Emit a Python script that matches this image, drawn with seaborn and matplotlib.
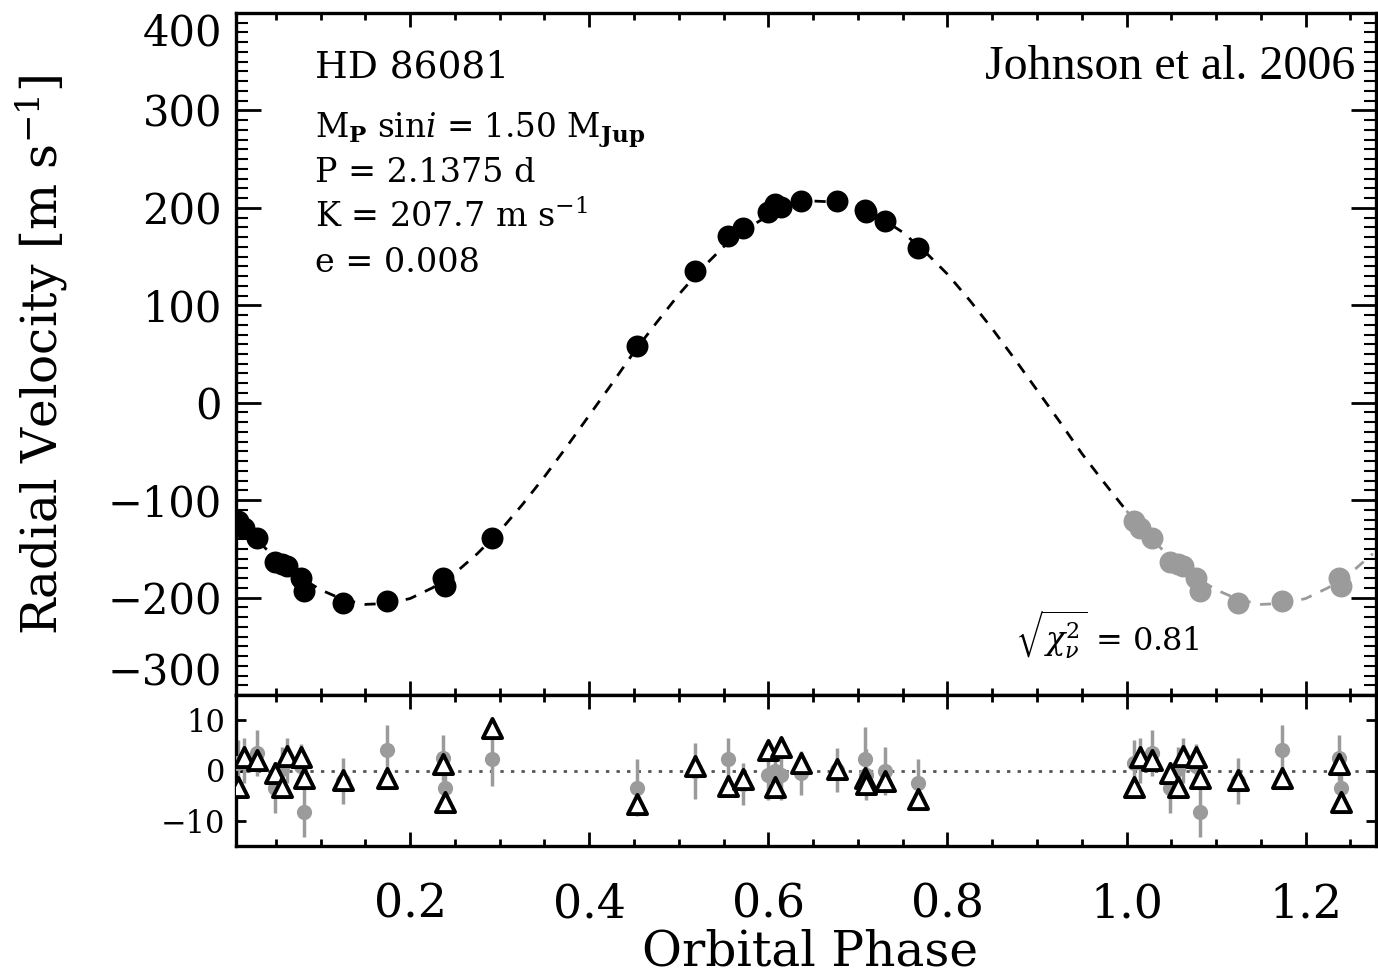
import numpy as np
import pandas as pd
import matplotlib
matplotlib.use("Agg")
import matplotlib.pyplot as plt
from matplotlib.ticker import MultipleLocator, FixedLocator, FormatStrFormatter
import seaborn as sns

# ---------------- data ----------------
obs_phase = [0.008, 0.015, 0.029, 0.049, 0.057, 0.063, 0.078, 0.082, 0.125, 0.174,
             0.237, 0.239, 0.291, 0.453, 0.518, 0.555, 0.572, 0.600, 0.608, 0.614,
             0.637, 0.677, 0.708, 0.709, 0.730, 0.767]
obs_rv = [-121, -129, -139, -163, -166, -168, -180, -193, -206, -204,
          -180, -188, -139, 58, 135, 171, 179, 196, 204, 201,
          207, 207, 198, 196, 187, 159]
resid_gray = [1.5, 2.0, 3.5, -3.4, 0.2, 2.0, 0.8, -8.3, -2.1, 4.1,
              2.5, -3.4, 2.2, -3.4, -0.1, 2.2, -2.7, -0.8, 0.0, -0.8,
              -0.5, 0.1, 2.2, -0.8, -0.1, -2.4]
resid_err = [4.5, 4.5, 4.5, 5.0, 4.5, 4.5, 4.5, 4.9, 4.6, 4.9,
             4.5, 4.6, 5.2, 5.7, 5.5, 4.2, 4.2, 5.0, 4.5, 5.0,
             4.3, 4.3, 6.5, 5.0, 4.8, 4.7]
resid_tri = [-3.3, 2.7, 2.0, -0.5, -3.3, 2.8, 2.7, -1.4, -1.8, -1.4,
             1.2, -6.3, 8.4, -6.7, 0.8, -3.0, -1.6, 4.1, -3.2, 4.6,
             1.5, 0.3, -1.4, -2.6, -2.1, -5.6]

# model curve values
curve_phase = np.round(np.arange(0.0, 1.2751, 0.025), 3)
curve_rv = [-111, -137, -160, -178, -192, -202, -207, -206, -201, -190,
            -175, -155, -132, -105, -76, -45, -13, 19, 52, 82,
            111, 137, 160, 178, 192, 202, 207, 206, 201, 190,
            175, 155, 132, 105, 76, 45, 13, -19, -52, -82,
            -111, -137, -160, -178, -192, -202, -207, -206, -201, -190,
            -175, -155]

xtick_vals = [0.2, 0.4, 0.6, 0.8, 1.0, 1.2]
ytick_top = [-300, -200, -100, 0, 100, 200, 300, 400]
ytick_res = [-10, 0, 10]
XMIN, XMAX = 0.0056, 1.2786

# ---------------- frames ----------------
df = pd.DataFrame({"phase": obs_phase, "rv": obs_rv, "rg": resid_gray,
                   "err": resid_err, "rt": resid_tri})
df_wrap = df[df["phase"] + 1 <= XMAX].copy()
df_wrap["phase"] = df_wrap["phase"] + 1
dcurve = pd.DataFrame({"phase": curve_phase, "rv": curve_rv})
c_black = dcurve[dcurve["phase"] <= 1.0]
c_gray = dcurve[dcurve["phase"] >= 1.0]
df_res = pd.concat([df, df_wrap])

# ---------------- style ----------------
sns.set_style("ticks")
plt.rcParams["font.family"] = ["DejaVu Serif"]
plt.rcParams["mathtext.fontset"] = "dejavuserif"
for k in ("text.color", "axes.labelcolor", "xtick.color", "ytick.color",
          "axes.edgecolor"):
    plt.rcParams[k] = "black"

GRAY = "#9b9b9b"
fig = plt.figure(figsize=(13.78, 9.76), dpi=100)
W, H = 1378, 976
def fx(px): return px / W
def fy(py): return 1 - py / H

ax1 = fig.add_axes([fx(236), fy(695), fx(1376) - fx(236), fy(13) - fy(695)])
ax2 = fig.add_axes([fx(236), fy(846), fx(1376) - fx(236), fy(695) - fy(846)], sharex=ax1)

# ---- top panel ----
sns.lineplot(data=c_black, x="phase", y="rv", ax=ax1, color="black", lw=2, sort=False)
ax1.lines[-1].set_dashes((4, 3.5))
sns.lineplot(data=c_gray, x="phase", y="rv", ax=ax1, color=GRAY, lw=2, sort=False)
ax1.lines[-1].set_dashes((4, 3.5))
sns.scatterplot(data=df, x="phase", y="rv", ax=ax1, color="black", s=250,
                linewidth=0, zorder=3)
sns.scatterplot(data=df_wrap, x="phase", y="rv", ax=ax1, color=GRAY, s=250,
                linewidth=0, zorder=3)
ax1.set_xlim(XMIN, XMAX)
ax1.set_ylim(-300, 400)
ax1.set_xlabel("")
ax1.set_ylabel("")

# ---- residual panel ----
ax2.axhline(0, color="#555555", lw=2, zorder=1)
ax2.lines[-1].set_dashes((1.2, 2.6))
ax2.errorbar(df_res["phase"], df_res["rg"], yerr=df_res["err"], fmt="none",
             ecolor=GRAY, elinewidth=2.5, capsize=0, zorder=2)
sns.scatterplot(data=df_res, x="phase", y="rg", ax=ax2, color=GRAY, s=120,
                linewidth=0, zorder=3)
sns.scatterplot(data=df_res, x="phase", y="rt", ax=ax2, marker="^", color="white",
                edgecolor="black", linewidth=2.8, s=190, zorder=4)
ax2.set_ylim(-15, 15)
ax2.set_xlim(XMIN, XMAX)
ax2.set_xlabel("")
ax2.set_ylabel("")

# ---- axes decoration ----
for ax in (ax1, ax2):
    for sp in ax.spines.values():
        sp.set_visible(True)
        sp.set_linewidth(2.4)
        sp.set_color("black")
    ax.xaxis.set_major_locator(FixedLocator(xtick_vals))
    ax.xaxis.set_minor_locator(MultipleLocator(0.05))
    ax.tick_params(axis="x", which="major", direction="in", top=True, bottom=True,
                   length=10, width=2)
    ax.tick_params(axis="x", which="minor", direction="in", top=True, bottom=True,
                   length=5, width=2)

ax1.yaxis.set_major_locator(FixedLocator(ytick_top))
ax1.yaxis.set_minor_locator(MultipleLocator(10))
ax1.tick_params(axis="y", which="major", direction="in", left=True, right=True,
                length=18, width=2, labelsize=30, pad=10)
ax1.tick_params(axis="y", which="minor", direction="in", left=True, right=True,
                length=8.5, width=1.5)
ax1.tick_params(axis="x", labelbottom=False)

ax2.yaxis.set_major_locator(FixedLocator(ytick_res))
ax2.tick_params(axis="y", which="major", direction="in", left=True, right=True,
                length=7, width=2, labelsize=22, pad=8)
ax2.tick_params(axis="y", which="minor", left=False, right=False)
ax2.xaxis.set_major_formatter(FormatStrFormatter("%.1f"))
ax2.tick_params(axis="x", which="major", labelsize=33, pad=26)

fig.canvas.draw()
ylabels = ax1.get_yticklabels()
ylabels[0].set_va("bottom")
ylabels[-1].set_va("top")

# ---- texts ----
fig.text(fx(42), fy(355), r"Radial Velocity [m s$^{-1}$]", rotation=90,
         ha="center", va="center", fontsize=35)
fig.text(fx(810), fy(952), "Orbital Phase", ha="center", va="center", fontsize=35)

fig.text(fx(315), fy(67), "HD 86081", ha="left", va="center", fontsize=27)
fig.text(fx(315), fy(130), r"M$_{\mathbf{P}}$ sin$\mathit{i}$ = 1.50 M$_{\mathbf{Jup}}$",
         ha="left", va="center", fontsize=23.5)
fig.text(fx(315), fy(173), "P = 2.1375 d", ha="left", va="center", fontsize=24)
fig.text(fx(315), fy(217), r"K = 207.7 m s$^{-1}$", ha="left", va="center", fontsize=24)
fig.text(fx(315), fy(263), "e = 0.008", ha="left", va="center", fontsize=24)
fig.text(fx(1355), fy(67), "Johnson et al. 2006", ha="right", va="center",
         fontsize=34.5, family=["Liberation Serif", "DejaVu Serif"])
fig.text(fx(1015), fy(635), r"$\sqrt{\chi^2_\nu}$ = 0.81", ha="left", va="center",
         fontsize=23)

fig.savefig("out.png", dpi=100, facecolor="white")
